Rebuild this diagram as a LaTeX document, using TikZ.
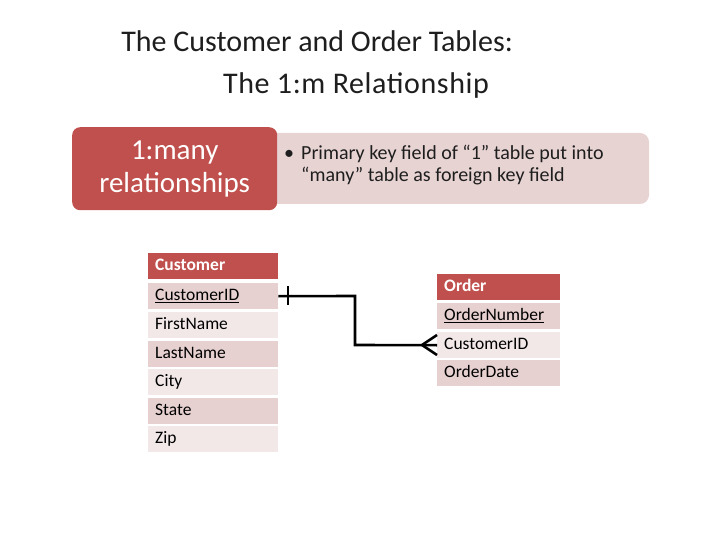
\documentclass[tikz,border=0pt]{standalone}
\usepackage{fontspec}
\setmainfont{Carlito}
\begin{document}
\begin{tikzpicture}[x=1pt,y=-1pt,
  cell/.style={anchor=north west,minimum height=26pt,inner sep=0pt,text height=12pt,text depth=4pt,align=left,font=\fontsize{17.5}{17.5}\selectfont},
  hdr/.style={cell,fill=hdrred,text=white,font=\fontsize{17.5}{17.5}\selectfont\bfseries},
  rowd/.style={cell,fill=rowdark},
  rowl/.style={cell,fill=rowlight},
  ttl/.style={font=\fontsize{30}{30}\selectfont,text=txtgray,inner sep=0pt},
  link/.style={line width=2.6pt,black}]
\definecolor{hdrred}{RGB}{192,80,77}
\definecolor{rowdark}{RGB}{231,208,208}
\definecolor{rowlight}{RGB}{242,232,232}
\definecolor{pinkbox}{RGB}{232,211,211}
\definecolor{txtgray}{RGB}{30,30,30}
\useasboundingbox (0,0) rectangle (720,540);
\fill[white] (0,0) rectangle (720,540);
% title
\node[ttl,anchor=base east] (title1) at (513,52) {The Customer and Order Tables:};
\node[ttl,anchor=base] (title2) at (356,94) {\addfontfeature{LetterSpace=2}The 1:m Relationship};
% boxes
\fill[pinkbox,rounded corners=9pt] (268,133) rectangle (649,204);
\node[fill=hdrred,rounded corners=8pt,minimum width=205pt,minimum height=83pt,anchor=north west,text=white,font=\fontsize{29}{33}\selectfont,align=center,inner sep=0pt] (rel) at (72,127) {1:many\\relationships};
\node[anchor=north west,text=txtgray,font=\fontsize{20}{22}\selectfont,align=left,inner sep=0pt] (bul) at (284,145) {\textbullet\hspace{7pt}Primary key field of “1” table put into\\\hspace{17pt}“many” table as foreign key field};
% customer table
\begin{scope}[every node/.append style={minimum width=130pt,text width=126pt}]
\node[hdr] (ch) at (148,253) {\hspace{5pt}Customer};
\node[rowd] (c1) at (148,283) {\hspace{5pt}\underline{CustomerID}};
\node[rowl] (c2) at (148,312) {\hspace{5pt}FirstName};
\node[rowd] (c3) at (148,341) {\hspace{5pt}LastName};
\node[rowl] (c4) at (148,369) {\hspace{5pt}City};
\node[rowd] (c5) at (148,398) {\hspace{5pt}State};
\node[rowl] (c6) at (148,426) {\hspace{5pt}Zip};
\end{scope}
% order table
\begin{scope}[every node/.append style={minimum width=123pt,text width=119pt}]
\node[hdr] (oh) at (437,274) {\hspace{5pt}Order};
\node[rowd] (o1) at (437,303) {\hspace{5pt}\underline{OrderNumber}};
\node[rowl] (o2) at (437,332) {\hspace{5pt}CustomerID};
\node[rowd] (o3) at (437,360) {\hspace{5pt}OrderDate};
\end{scope}
% connector
\coordinate (bend1) at (355,296);
\coordinate (bend2) at (355,345);
\draw[link] (c1.east) -- (bend1) -- (bend2) -- (o2.west);
\draw[link] (288,286) -- (288,305);
\draw[link] (422,345) -- (437,335);
\draw[link] (422,345) -- (437,355);
\end{tikzpicture}
\end{document}
